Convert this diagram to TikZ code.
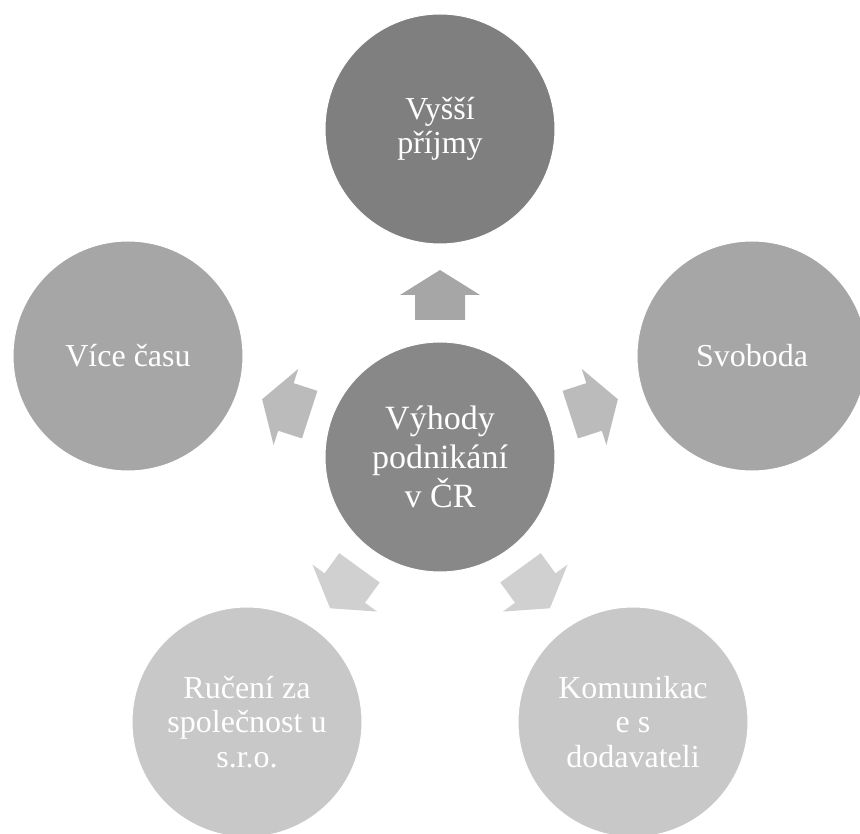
\documentclass[tikz,border=0pt]{standalone}
\usepackage{fontspec}
\setmainfont{Liberation Serif}
\definecolor{topfill}{HTML}{7F7F7F}
\definecolor{centerfill}{HTML}{888888}
\definecolor{sidefill}{HTML}{A6A6A6}
\definecolor{bottomfill}{HTML}{C8C8C8}
\definecolor{arrowtop}{HTML}{A6A6A6}
\definecolor{arrowside}{HTML}{BBBBBB}
\definecolor{arrowbottom}{HTML}{D0D0D0}
\tikzset{
  bubble/.style={circle, minimum size=230pt, inner sep=0pt, draw=white, line width=1pt,
    text=white, align=center, font=\fontsize{32}{34.5}\selectfont},
  hubbubble/.style={bubble, font=\fontsize{34}{39}\selectfont},
  blockarrow/.style={draw=none}
}
\begin{document}
\begin{tikzpicture}[x=1pt,y=-1pt]
\useasboundingbox (0,0) rectangle (860,834);
\node[hubbubble, fill=centerfill] (c) at (440,457) {Výhody\\podnikání\\v ČR};
\node[bubble, fill=topfill] (t) at (440,129) {Vyšší\\příjmy};
\node[bubble, fill=sidefill] (l) at (128,356) {Více času};
\node[bubble, fill=sidefill] (r) at (752,356) {Svoboda};
\node[bubble, fill=bottomfill] (bl) at (247,722) {Ručení za\\společnost u\\s.r.o.};
\node[bubble, fill=bottomfill] (br) at (633,722) {Komunikac\\e s\\dodavateli};
\foreach \ang/\col in {90/arrowtop, 162/arrowside, 18/arrowside, 234/arrowbottom, 306/arrowbottom}
  \fill[blockarrow, fill=\col, shift={(c.center)}, rotate=\ang]
    (187,0) -- (162,40) -- (162,25) -- (137,25) -- (137,-25) -- (162,-25) -- (162,-40) -- cycle;
\end{tikzpicture}
\end{document}
